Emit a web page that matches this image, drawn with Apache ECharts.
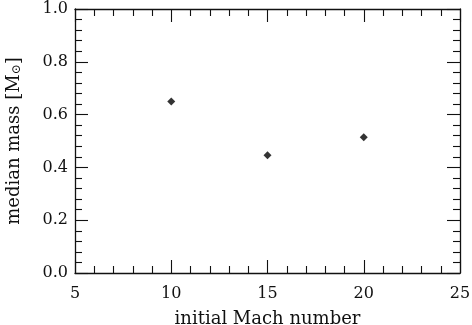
<!DOCTYPE html>
<html><head><meta charset="utf-8">
<script src="https://cdn.jsdelivr.net/npm/echarts@6/dist/echarts.min.js"></script>
<style>html,body{margin:0;padding:0;background:#fff}#c{width:472px;height:325px}</style>
</head><body><div id="c"></div>
<script>
const machNumbers = [10, 15, 20];
const medianMass = [0.650, 0.446, 0.514];
const xTicks = [5, 10, 15, 20, 25];
const yTicks = [0.0, 0.2, 0.4, 0.6, 0.8, 1.0];

const font = 'DejaVu Serif';
const col = '#111';
function axisBase(show) {
  return {
    axisLine: {show: true, onZero: false, lineStyle: {color: col, width: 1.3}},
    axisTick: {show: true, inside: true, length: 13, lineStyle: {color: col, width: 1.1}},
    minorTick: {show: true, splitNumber: 5, length: 7, lineStyle: {color: col, width: 1.1}},
    splitLine: {show: false},
    axisLabel: {show: show, color: col, fontFamily: font, fontSize: 16}
  };
}
const chart = echarts.init(document.getElementById('c'), null, {renderer: 'canvas'});
chart.setOption({
  animation: false,
  grid: {left: 75, right: 12, top: 9, bottom: 52, containLabel: false, outerBoundsMode: 'none'},
  xAxis: [
    Object.assign(axisBase(true), {type: 'value', min: xTicks[0], max: xTicks[xTicks.length-1], interval: 5, position: 'bottom',
      axisLabel: {show: true, color: col, fontFamily: font, fontSize: 16, margin: 13},
      name: 'initial Mach number', nameLocation: 'middle', nameGap: 37,
      nameTextStyle: {color: col, fontFamily: font, fontSize: 18}}),
    Object.assign(axisBase(false), {type: 'value', min: xTicks[0], max: xTicks[xTicks.length-1], interval: 5, position: 'top'})
  ],
  yAxis: [
    Object.assign(axisBase(true), {type: 'value', min: yTicks[0], max: yTicks[yTicks.length-1], interval: 0.2, position: 'left',
      name: 'median mass [M{sub|⊙}]', nameLocation: 'middle', nameGap: 52,
      nameTextStyle: {color: col, fontFamily: font, fontSize: 18,
        rich: {sub: {fontFamily: font, fontSize: 12, color: col, verticalAlign: 'bottom', padding: [6,0,0,0]}}},
      axisLabel: {show: true, color: col, fontFamily: font, fontSize: 16, margin: 7, formatter: v => v.toFixed(1)}}),
    Object.assign(axisBase(false), {type: 'value', min: yTicks[0], max: yTicks[yTicks.length-1], interval: 0.2, position: 'right'})
  ],
  series: [{
    type: 'scatter', xAxisIndex: 0, yAxisIndex: 0,
    data: machNumbers.map((x, i) => [x, medianMass[i]]),
    symbol: 'diamond', symbolSize: 8,
    itemStyle: {color: '#000'}
  }]
});
</script></body></html>
